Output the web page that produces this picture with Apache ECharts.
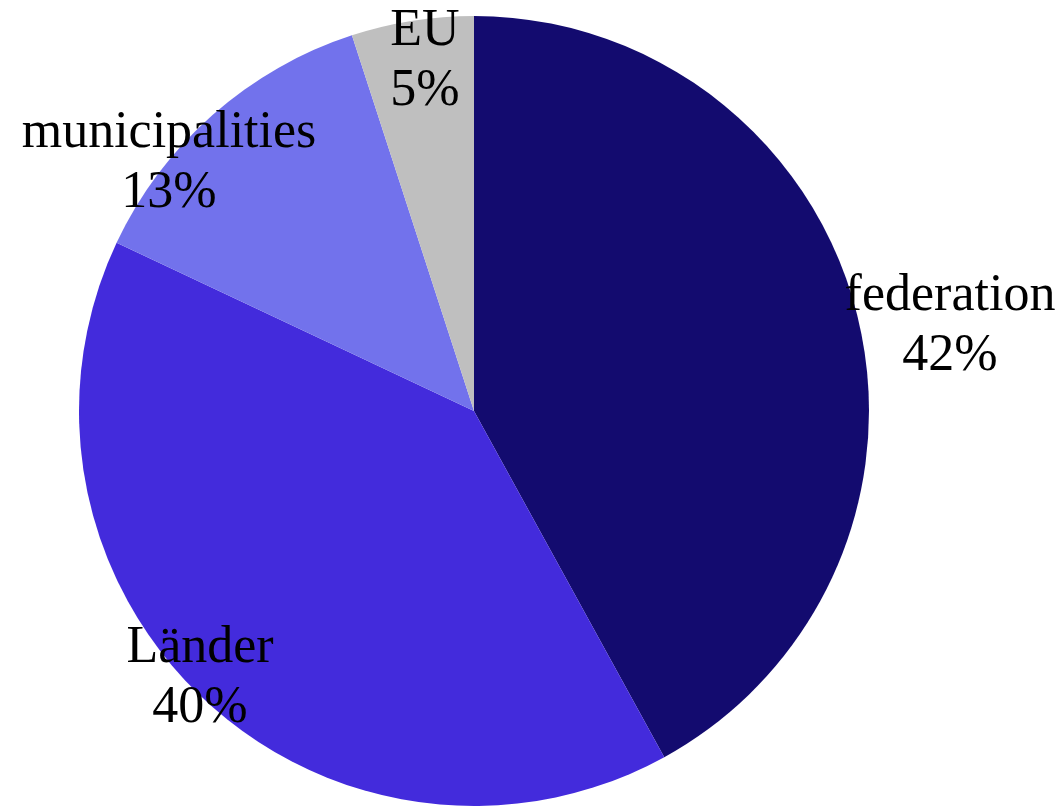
<!DOCTYPE html>
<html>
<head>
<meta charset="utf-8">
<style>
  html, body { margin: 0; padding: 0; background: #ffffff; }
  #chart { width: 1064px; height: 806px; }
</style>
<script src="https://cdn.jsdelivr.net/npm/echarts@6/dist/echarts.min.js"></script>
</head>
<body>
<div id="chart"></div>
<script>
// Revenue shares by level of government (percent)
const categories = ['federation', 'Länder', 'municipalities', 'EU'];
const shares = [42, 40, 13, 5];
const sliceColors = ['#130b6f', '#432bdc', '#7272ec', '#bfbfbf'];

// Label anchor points (pixel centres of each two-line label)
const labelAnchors = {
  'federation': [950, 326],
  'Länder': [200, 678],
  'municipalities': [169, 163],
  'EU': [425, 61]
};

const chart = echarts.init(document.getElementById('chart'), null, { renderer: 'canvas' });

chart.setOption({
  backgroundColor: '#ffffff',
  animation: false,
  series: [{
    type: 'pie',
    center: [474, 411],
    radius: 395,
    startAngle: 90,
    clockwise: true,
    avoidLabelOverlap: false,
    data: categories.map((name, i) => ({
      name: name,
      value: shares[i],
      itemStyle: { color: sliceColors[i] }
    })),
    itemStyle: { borderWidth: 0 },
    emphasis: { disabled: true },
    label: {
      show: true,
      position: 'inside',
      formatter: p => p.name + '\n' + p.value + '%',
      fontFamily: '"Liberation Serif", "DejaVu Serif", serif',
      fontSize: 52,
      lineHeight: 60,
      color: '#000000',
      align: 'center',
      verticalAlign: 'middle'
    },
    labelLine: { show: false },
    labelLayout: function (params) {
      const name = categories[params.dataIndex];
      const pt = labelAnchors[name];
      return { x: pt[0], y: pt[1], align: 'center', verticalAlign: 'middle' };
    }
  }]
});
</script>
</body>
</html>
